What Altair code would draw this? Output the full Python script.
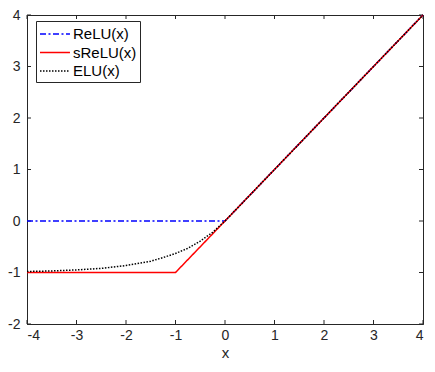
import altair as alt
import pandas as pd

# Values
relu_x = [-4, 0, 4]
relu_y = [0, 0, 4]
srelu_x = [-4, -1, 4]
srelu_y = [-1, -1, 4]
elu_x = [-4, -3.5, -3, -2.5, -2, -1.5, -1.25, -1, -0.75, -0.5, -0.25, 0, 4]
elu_y = [-0.98, -0.97, -0.95, -0.92, -0.865, -0.78, -0.71, -0.63, -0.53, -0.39, -0.22, 0, 4]
series = ["ReLU(x)", "sReLU(x)", "ELU(x)"]
colors = ["#0000ff", "#ff0000", "#000000"]
dashes = [[6, 2.5, 2, 2.5], [1, 0], [1.5, 1.5]]
x_ticks = [-4, -3, -2, -1, 0, 1, 2, 3, 4]
y_ticks = [-2, -1, 0, 1, 2, 3, 4]

rows = []
for name, xs, ys in [(series[0], relu_x, relu_y), (series[1], srelu_x, srelu_y), (series[2], elu_x, elu_y)]:
    for i, (a, b) in enumerate(zip(xs, ys)):
        rows.append({"series": name, "x": a, "y": b, "o": i})
df = pd.DataFrame(rows)

W, H = 396, 309
FONT = "Liberation Sans"
xscale = alt.Scale(domain=[-4, 4], nice=False, zero=False)
yscale = alt.Scale(domain=[-2, 4], nice=False, zero=False)
label_expr = "replace(format(datum.value, 'd'), '\u2212', '-')"
axis_style = dict(domainColor="#262626", domainWidth=1, tickSize=0, labelFont=FONT,
                  labelFontSize=14, labelColor="#262626", grid=False, labelExpr=label_expr)

legend_kw = dict(title=None, orient="none", legendX=9, legendY=6,
                 symbolType="M-1,0H2.33", symbolSize=324, symbolStrokeWidth=1.5,
                 symbolFillColor="transparent",
                 labelFont=FONT, labelFontSize=15, labelColor="#000000",
                 strokeColor="#262626", fillColor="white", padding=3,
                 rowPadding=0.5, labelOffset=14)

lines = alt.Chart(df).mark_line(strokeWidth=1.5).encode(
    x=alt.X("x:Q", scale=xscale, axis=alt.Axis(values=x_ticks, title="x", titleFont=FONT,
                                                titleFontSize=15, titleFontWeight="normal", titleColor="#262626",
                                                titleY=33, titleBaseline="alphabetic",
                                                labelPadding=4, **axis_style)),
    y=alt.Y("y:Q", scale=yscale, axis=alt.Axis(values=y_ticks, title=None, labelPadding=7, **axis_style)),
    color=alt.Color("series:N", scale=alt.Scale(domain=series, range=colors), sort=series,
                    legend=alt.Legend(**legend_kw)),
    strokeDash=alt.StrokeDash("series:N", scale=alt.Scale(domain=series, range=dashes), sort=series,
                              legend=alt.Legend(**legend_kw)),
    order="o:Q",
)

xt = pd.DataFrame({"t": x_ticks})
yt = pd.DataFrame({"t": y_ticks})
tick_style = dict(color="#262626", strokeWidth=1)
xb = alt.Chart(xt).mark_rule(**tick_style).encode(x=alt.X("t:Q", scale=xscale), y=alt.value(H), y2=alt.value(H - 4))
xtp = alt.Chart(xt).mark_rule(**tick_style).encode(x=alt.X("t:Q", scale=xscale), y=alt.value(0), y2=alt.value(4))
yl = alt.Chart(yt).mark_rule(**tick_style).encode(y=alt.Y("t:Q", scale=yscale), x=alt.value(0), x2=alt.value(4))
yr = alt.Chart(yt).mark_rule(**tick_style).encode(y=alt.Y("t:Q", scale=yscale), x=alt.value(W), x2=alt.value(W - 4))

chart = alt.layer(xb, xtp, yl, yr, lines).properties(
    width=W, height=H,
    autosize=alt.AutoSizeParams(type="none"),
    padding={"left": 19, "top": 7, "right": 4, "bottom": 36},
).configure_view(stroke="#262626", strokeWidth=1)

chart.save("out.html", embed_options={"renderer": "svg", "actions": False})
